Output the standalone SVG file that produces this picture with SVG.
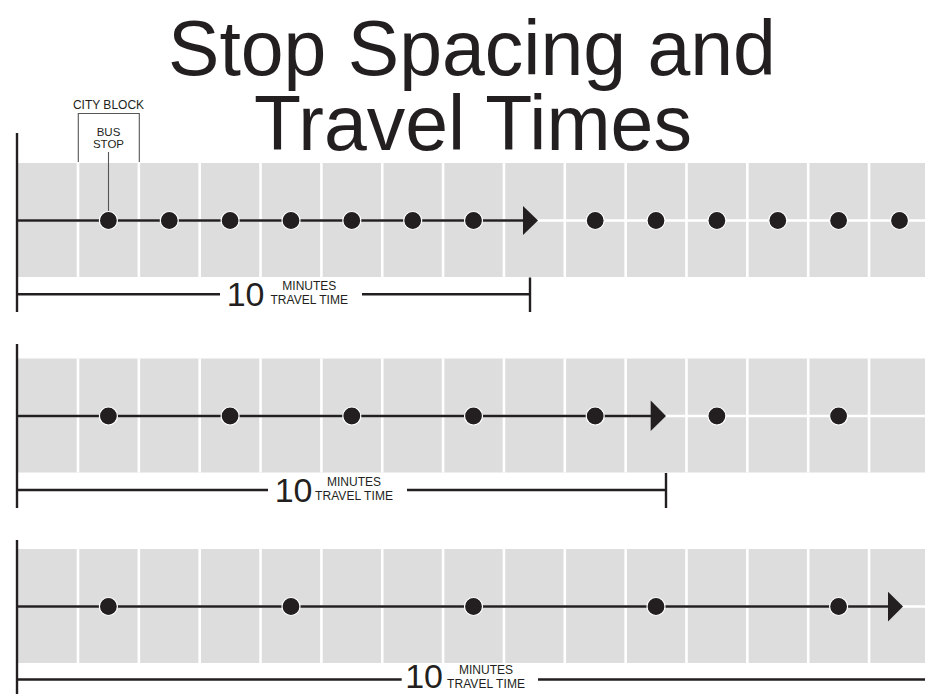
<svg xmlns="http://www.w3.org/2000/svg" width="925" height="694" viewBox="0 0 925 694">
<defs>
<style>
.title{font-family:"Liberation Sans",Arial,sans-serif;font-size:77px;fill:#231f20;text-anchor:middle}
.small{font-family:"Liberation Sans",Arial,sans-serif;font-size:12px;fill:#231f20}
.big{font-family:"Liberation Sans",Arial,sans-serif;font-size:34px;fill:#231f20;text-anchor:end}
.mid{text-anchor:middle}
.gray{fill:#dddddd}
.grid{stroke:#ffffff;stroke-width:2.6;fill:none}
.route{stroke:#231f20;stroke-width:2.6;fill:none}
.axis{stroke:#231f20;stroke-width:2.4;fill:none}
.stop{fill:#231f20;stroke:#ffffff;stroke-width:1.2}
.arrow{fill:#231f20}
.thin{stroke:#555555;stroke-width:1.1;fill:none}
</style>
<g id="cells">
<rect class="gray" x="18" y="163" width="907" height="114"/>
<path class="grid" d="M78 163V277M138.85 163V277M199.7 163V277M260.55 163V277M321.4 163V277M382.25 163V277M443.1 163V277M503.95 163V277M564.8 163V277M625.65 163V277M686.5 163V277M747.35 163V277M808.2 163V277M869.05 163V277M18 220.5H925"/>
</g>
</defs>

<g id="title">
<text class="title" x="472" y="75">Stop Spacing and</text>
<text class="title" x="473" y="150">Travel Times</text>
</g>

<g id="band1">
<use href="#cells"/>
<g id="labels1">
<text class="small mid" x="108.5" y="109">CITY BLOCK</text>
<path class="thin" d="M78.3 162V113.5H139.3V162"/>
<text class="small mid" x="108.5" y="135.5" style="font-size:11.5px">BUS</text>
<text class="small mid" x="108.5" y="147.5" style="font-size:11.5px">STOP</text>
<path class="thin" d="M108.5 152V212"/>
</g>
<g id="connectors1">
<path class="route" d="M17 220.5H524"/>
<polygon class="arrow" points="523,206 538,220.5 523,235"/>
<path class="axis" d="M17 133V312"/>
</g>
<g id="stops1">
<circle class="stop" cx="108.4" cy="220.5" r="9"/>
<circle class="stop" cx="169.3" cy="220.5" r="9"/>
<circle class="stop" cx="230.1" cy="220.5" r="9"/>
<circle class="stop" cx="291" cy="220.5" r="9"/>
<circle class="stop" cx="351.8" cy="220.5" r="9"/>
<circle class="stop" cx="412.7" cy="220.5" r="9"/>
<circle class="stop" cx="473.5" cy="220.5" r="9"/>
<circle class="stop" cx="595.2" cy="220.5" r="9"/>
<circle class="stop" cx="656" cy="220.5" r="9"/>
<circle class="stop" cx="716.9" cy="220.5" r="9"/>
<circle class="stop" cx="777.8" cy="220.5" r="9"/>
<circle class="stop" cx="838.6" cy="220.5" r="9"/>
<circle class="stop" cx="899.5" cy="220.5" r="9"/>
</g>
<g id="measure1">
<path class="axis" d="M17 294.3H220M362 294.3H530M530 277.5V312"/>
<text class="big" x="264.5" y="305.7">10</text>
<text class="small mid" x="309.3" y="290">MINUTES</text>
<text class="small" x="270.5" y="304.3" textLength="77.5">TRAVEL TIME</text>
</g>
</g>

<g id="band2" transform="translate(0 195.5)">
<use href="#cells"/>
<g id="connectors2">
<path class="route" d="M17 220.5H652"/>
<polygon class="arrow" points="650.7,205 666,220.5 650.7,235.5"/>
<path class="axis" d="M17 148.5V312.5"/>
</g>
<g id="stops2">
<circle class="stop" cx="108.4" cy="220.5" r="9"/>
<circle class="stop" cx="230.1" cy="220.5" r="9"/>
<circle class="stop" cx="351.8" cy="220.5" r="9"/>
<circle class="stop" cx="473.5" cy="220.5" r="9"/>
<circle class="stop" cx="595.2" cy="220.5" r="9"/>
<circle class="stop" cx="716.9" cy="220.5" r="9"/>
<circle class="stop" cx="838.6" cy="220.5" r="9"/>
</g>
<g id="measure2">
<path class="axis" d="M17 294.5H268M407 294.5H666M666 277.5V312.5"/>
<text class="big" x="312.5" y="306">10</text>
<text class="small mid" x="354" y="290">MINUTES</text>
<text class="small" x="315" y="304.5" textLength="78">TRAVEL TIME</text>
</g>
</g>

<g id="band3" transform="translate(0 386)">
<use href="#cells"/>
<g id="connectors3">
<path class="route" d="M17 220.5H889"/>
<polygon class="arrow" points="888,205.7 903,220.5 888,235.5"/>
<path class="axis" d="M17 154V308"/>
</g>
<g id="stops3">
<circle class="stop" cx="108.4" cy="220.5" r="9"/>
<circle class="stop" cx="291" cy="220.5" r="9"/>
<circle class="stop" cx="473.5" cy="220.5" r="9"/>
<circle class="stop" cx="656" cy="220.5" r="9"/>
<circle class="stop" cx="838.6" cy="220.5" r="9"/>
</g>
<g id="measure3">
<path class="axis" d="M17 293.5H401.7M538 293.5H925"/>
<text class="big" x="443" y="302">10</text>
<text class="small mid" x="486" y="288">MINUTES</text>
<text class="small" x="447" y="301.5" textLength="78">TRAVEL TIME</text>
</g>
</g>
</svg>
